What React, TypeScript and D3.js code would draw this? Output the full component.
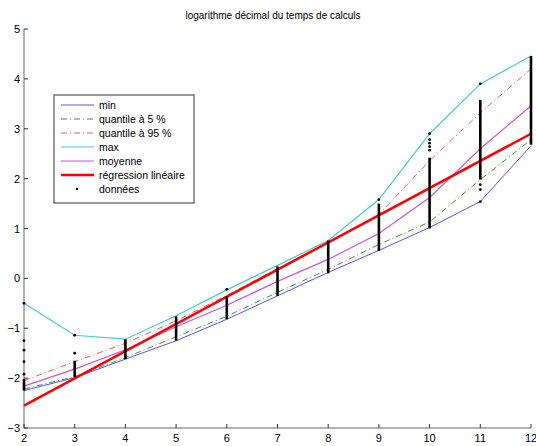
import React from "react";
import * as d3 from "d3";

const xs = [2, 3, 4, 5, 6, 7, 8, 9, 10, 11, 12];
const minV = [-2.25, -1.99, -1.62, -1.25, -0.82, -0.35, 0.12, 0.56, 1.02, 1.54, 2.66];
const q5V = [-2.22, -1.97, -1.59, -1.17, -0.76, -0.28, 0.18, 0.68, 1.13, 1.98, 2.78];
const q95V = [-2.05, -1.67, -1.3, -0.85, -0.34, 0.2, 0.72, 1.28, 2.36, 3.32, 4.2];
const maxV = [-0.5, -1.14, -1.22, -0.75, -0.23, 0.26, 0.76, 1.58, 2.9, 3.9, 4.46];
const meanV = [-2.16, -1.82, -1.43, -0.97, -0.54, -0.06, 0.38, 0.9, 1.62, 2.6, 3.46];
const regX = [2, 12];
const regV = [-2.55, 2.9];

// dense columns of data points (visible extents)
const bandLo = [-2.25, -1.98, -1.62, -1.25, -0.82, -0.35, 0.1, 0.55, 1.0, 1.98, 2.68];
const bandHi = [-2.02, -1.65, -1.22, -0.76, -0.36, 0.24, 0.76, 1.5, 2.42, 3.58, 4.46];
// isolated data points
const dotX = [2, 2, 2, 2, 2, 3, 3, 6, 9, 10, 10, 10, 10, 10, 11, 11, 11, 11];
const dotY = [-0.5, -1.25, -1.44, -1.67, -1.92, -1.5, -1.14, -0.22, 1.58, 2.9, 2.78, 2.71, 2.64, 2.57, 3.9, 1.88, 1.78, 1.54];

const xTicks = [2, 3, 4, 5, 6, 7, 8, 9, 10, 11, 12];
const yTicks = [-3, -2, -1, 0, 1, 2, 3, 4, 5];

const title = "logarithme décimal du temps de calculs";
const legendLabels = ["min", "quantile à 5 %", "quantile à 95 %", "max", "moyenne", "régression linéaire", "données"];

const W = 536, H = 446;
const L = 24, R = 531, T = 29, B = 428;

export default function App() {
  const x = d3.scaleLinear().domain([2, 12]).range([L, R]);
  const y = d3.scaleLinear().domain([-3, 5]).range([B, T]);
  const line = d3.line<[number, number]>().x(d => x(d[0])).y(d => y(d[1]));
  const ser = (v: number[]) => line(xs.map((xx, i) => [xx, v[i]] as [number, number])) || "";
  const font = "'Liberation Sans', Arial, sans-serif";

  const series = [
    { d: ser(minV), color: "#5555ff", w: 1, dash: undefined },
    { d: ser(q5V), color: "#339933", w: 1, dash: "6,3,1,3" },
    { d: ser(q95V), color: "#ff5555", w: 1, dash: "6,3,1,3" },
    { d: ser(maxV), color: "#44cccc", w: 1.2, dash: undefined },
    { d: ser(meanV), color: "#cc55dd", w: 1.2, dash: undefined },
    { d: line(regX.map((xx, i) => [xx, regV[i]] as [number, number])) || "", color: "#ff0000", w: 2.5, dash: undefined },
  ];

  const legX = 54, legY = 95, legW = 140, legH = 108, rowH = 14;

  return (
    <svg width={W} height={H} style={{ position: "absolute", left: 0, top: 0, background: "#fff" }} fontFamily={font}>
      <rect x={0} y={0} width={W} height={H} fill="#fff" />
      <text x={273} y={19} textAnchor="middle" fontSize={10} fill="#000">{title}</text>

      {/* axes */}
      <line x1={L} y1={T} x2={L} y2={B} stroke="#999" strokeWidth={1.5} />
      <line x1={L} y1={B} x2={R} y2={B} stroke="#999" strokeWidth={1.5} />
      {yTicks.map(t => (
        <g key={"y" + t}>
          <line x1={L} x2={L + 4} y1={y(t)} y2={y(t)} stroke="#333" strokeWidth={1} />
          <text x={L - 4} y={y(t) + 4} textAnchor="end" fontSize={11} fill="#000">{t < 0 ? "\u2212" + Math.abs(t) : String(t)}</text>
        </g>
      ))}
      {xTicks.map(t => (
        <g key={"x" + t}>
          <line x1={x(t)} x2={x(t)} y1={B} y2={B - 4} stroke="#333" strokeWidth={1} />
          <text x={x(t)} y={B + 14} textAnchor="middle" fontSize={11} fill="#000">{t}</text>
        </g>
      ))}

      {/* series */}
      {series.map((s, i) => (
        <path key={i} d={s.d} fill="none" stroke={s.color} strokeWidth={s.w} strokeDasharray={s.dash} />
      ))}

      {/* data */}
      {xs.map((xx, i) => (
        <line key={"b" + i} x1={x(xx)} x2={x(xx)} y1={y(bandLo[i])} y2={y(bandHi[i])} stroke="#000" strokeWidth={2.6} />
      ))}
      {dotX.map((xx, i) => (
        <circle key={"d" + i} cx={x(xx)} cy={y(dotY[i])} r={1.4} fill="#000" />
      ))}

      {/* legend */}
      <rect x={legX} y={legY} width={legW} height={legH} fill="#fff" stroke="#333" strokeWidth={1} />
      {legendLabels.map((lab, i) => {
        const cy = legY + 10 + i * rowH;
        const s = series[i];
        return (
          <g key={"l" + i}>
            {i < 6 ? (
              <line x1={legX + 7} x2={legX + 40} y1={cy} y2={cy} stroke={s.color} strokeWidth={s.w} strokeDasharray={s.dash} />
            ) : (
              <circle cx={legX + 23} cy={cy} r={1.2} fill="#000" />
            )}
            <text x={legX + 45} y={cy + 4} fontSize={10.5} fill="#000">{lab}</text>
          </g>
        );
      })}
    </svg>
  );
}
